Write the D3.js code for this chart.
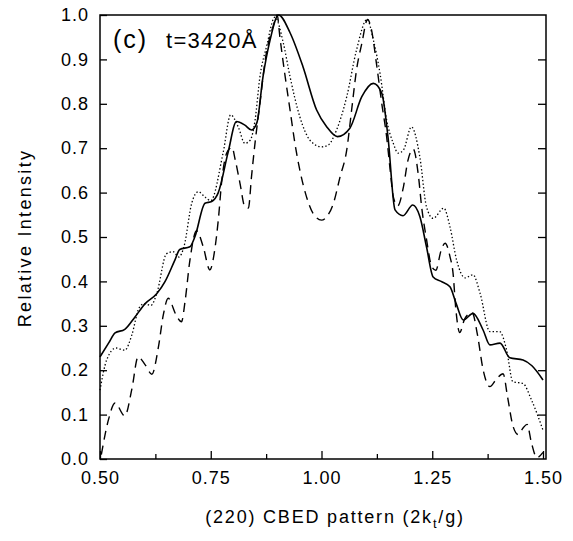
<!DOCTYPE html>
<html>
<head>
<meta charset="utf-8">
<script src="https://cdn.jsdelivr.net/npm/d3@7"></script>
<style>
  html, body { margin: 0; padding: 0; background: #fff; }
  svg { display: block; font-family: "Liberation Sans", Arial, sans-serif; }
</style>
</head>
<body>
<svg id="chart" width="573" height="541"></svg>
<script>
// ---- data ----
const solidX = [0.500,0.520,0.534,0.556,0.579,0.602,0.628,0.647,0.669,0.680,0.703,0.714,0.737,0.752,0.767,0.789,0.808,0.827,0.842,0.854,0.868,0.884,0.903,0.929,0.958,0.989,1.012,1.036,1.064,1.091,1.117,1.136,1.150,1.166,1.184,1.206,1.222,1.237,1.252,1.270,1.290,1.304,1.320,1.342,1.365,1.380,1.403,1.425,1.455,1.475,1.500];
const solidY = [0.230,0.262,0.284,0.292,0.320,0.350,0.372,0.400,0.448,0.472,0.478,0.500,0.576,0.580,0.600,0.690,0.760,0.752,0.741,0.757,0.861,0.944,1.000,0.960,0.884,0.786,0.748,0.726,0.745,0.816,0.846,0.824,0.726,0.561,0.548,0.572,0.546,0.478,0.410,0.400,0.388,0.350,0.313,0.328,0.290,0.257,0.261,0.228,0.223,0.210,0.178];

const dottedX = [0.500,0.515,0.536,0.556,0.572,0.588,0.600,0.615,0.628,0.650,0.665,0.678,0.690,0.707,0.722,0.737,0.750,0.778,0.795,0.812,0.827,0.839,0.850,0.861,0.876,0.895,0.914,0.929,0.951,0.974,1.000,1.015,1.034,1.057,1.079,1.103,1.117,1.132,1.147,1.162,1.173,1.185,1.203,1.222,1.237,1.252,1.276,1.290,1.305,1.324,1.342,1.358,1.380,1.402,1.418,1.432,1.455,1.474,1.500];
const dottedY = [0.155,0.223,0.250,0.245,0.280,0.340,0.350,0.346,0.372,0.462,0.467,0.455,0.480,0.576,0.602,0.590,0.582,0.690,0.775,0.748,0.711,0.718,0.763,0.861,0.929,0.995,0.936,0.861,0.771,0.718,0.703,0.707,0.741,0.816,0.921,0.990,0.944,0.869,0.764,0.711,0.689,0.696,0.748,0.680,0.568,0.542,0.565,0.523,0.448,0.408,0.415,0.373,0.287,0.287,0.245,0.174,0.170,0.133,0.065];

const dashedX = [0.503,0.519,0.534,0.556,0.572,0.586,0.602,0.617,0.632,0.643,0.654,0.671,0.684,0.692,0.703,0.718,0.733,0.748,0.759,0.767,0.775,0.786,0.798,0.805,0.816,0.827,0.835,0.842,0.850,0.861,0.873,0.891,0.900,0.906,0.918,0.929,0.940,0.951,0.966,0.981,1.000,1.012,1.027,1.042,1.057,1.068,1.079,1.091,1.104,1.113,1.124,1.136,1.147,1.155,1.162,1.172,1.185,1.195,1.207,1.219,1.226,1.237,1.249,1.258,1.270,1.279,1.290,1.297,1.303,1.312,1.323,1.340,1.352,1.365,1.380,1.395,1.410,1.420,1.432,1.444,1.455,1.464,1.474,1.486,1.500];
const dashedY = [0.010,0.088,0.126,0.097,0.158,0.230,0.212,0.191,0.253,0.325,0.362,0.326,0.309,0.355,0.448,0.514,0.478,0.426,0.471,0.538,0.628,0.689,0.702,0.675,0.621,0.568,0.565,0.636,0.712,0.801,0.899,0.975,1.000,0.951,0.861,0.786,0.711,0.651,0.591,0.553,0.538,0.546,0.576,0.636,0.696,0.786,0.876,0.936,0.990,0.966,0.891,0.801,0.726,0.651,0.591,0.570,0.613,0.672,0.698,0.636,0.568,0.495,0.433,0.425,0.470,0.486,0.456,0.418,0.340,0.285,0.315,0.330,0.280,0.200,0.163,0.180,0.192,0.140,0.075,0.055,0.070,0.078,0.036,0.003,0.015];

const xTicks = [0.50, 0.75, 1.00, 1.25, 1.50];
const xMinorTicks = [0.625, 0.875, 1.125, 1.375];
const yTicks = [0.0, 0.1, 0.2, 0.3, 0.4, 0.5, 0.6, 0.7, 0.8, 0.9, 1.0];
const yLabel = "Relative Intensity";
const panelLabel = "(c)";
const thicknessLabel = "t=3420Å";

// ---- layout ----
const svg = d3.select("#chart");
const mLeft = 100, mRight = 543, mTop = 15, mBottom = 459;
const frameRight = mRight + 3;

const x = d3.scaleLinear().domain([0.5, 1.5]).range([mLeft, mRight]);
const y = d3.scaleLinear().domain([0, 1]).range([mBottom, mTop]);

// frame
svg.append("rect")
  .attr("x", mLeft).attr("y", mTop)
  .attr("width", frameRight - mLeft).attr("height", mBottom - mTop)
  .attr("fill", "none").attr("stroke", "#000").attr("stroke-width", 1.5);

// axes
const styleAxis = g => {
  g.select(".domain").remove();
  g.selectAll(".tick line").attr("stroke", "#000").attr("stroke-width", 1.3);
  g.selectAll(".tick text").attr("fill", "#000")
    .style("font-size", "18px").style("letter-spacing", "1px");
};

svg.append("g").attr("transform", `translate(0,${mBottom})`)
  .call(d3.axisBottom(x).tickValues(xTicks).tickFormat(d3.format(".2f")).tickSize(-8).tickPadding(12))
  .call(styleAxis);

svg.append("g").attr("transform", `translate(0,${mBottom})`)
  .call(d3.axisBottom(x).tickValues(xMinorTicks).tickFormat("").tickSize(-5))
  .call(styleAxis);

svg.append("g").attr("transform", `translate(${mLeft},0)`)
  .call(d3.axisLeft(y).tickValues(yTicks).tickFormat(d3.format(".1f")).tickSize(-7).tickPadding(11))
  .call(styleAxis);

svg.append("g").attr("transform", `translate(${frameRight},0)`)
  .call(d3.axisRight(y).tickValues(yTicks.slice(1, -1)).tickFormat("").tickSize(-8))
  .call(styleAxis);

// lines
const line = d3.line().x(d => x(d[0])).y(d => y(d[1])).curve(d3.curveMonotoneX);
const zip = (xs, ys) => xs.map((v, i) => [v, ys[i]]);

svg.append("path").datum(zip(dashedX, dashedY))
  .attr("d", line).attr("fill", "none").attr("stroke", "#000")
  .attr("stroke-width", 1.4).attr("stroke-dasharray", "9,6");

svg.append("path").datum(zip(dottedX, dottedY))
  .attr("d", line).attr("fill", "none").attr("stroke", "#000")
  .attr("stroke-width", 1.3).attr("stroke-dasharray", "1.4,2.2");

svg.append("path").datum(zip(solidX, solidY))
  .attr("d", line).attr("fill", "none").attr("stroke", "#000")
  .attr("stroke-width", 1.6);

// annotation
svg.append("text").attr("x", 113).attr("y", 48)
  .style("font-size", "25px").style("letter-spacing", "2px")
  .text(panelLabel);
svg.append("text").attr("x", 166).attr("y", 48)
  .style("font-size", "22px").style("letter-spacing", "1.3px")
  .text(thicknessLabel);

// axis titles
svg.append("text")
  .attr("transform", "translate(31,238) rotate(-90)")
  .attr("text-anchor", "middle")
  .style("font-size", "18px").style("letter-spacing", "2.3px")
  .text(yLabel);

const xt = svg.append("text")
  .attr("x", 335).attr("y", 523)
  .attr("text-anchor", "middle")
  .style("font-size", "18px").style("letter-spacing", "1.8px");
xt.append("tspan").text("(220) CBED pattern (2k");
xt.append("tspan").attr("dy", 5).style("font-size", "13px").text("t");
xt.append("tspan").attr("dy", -5).text("/g)");
</script>
</body>
</html>
